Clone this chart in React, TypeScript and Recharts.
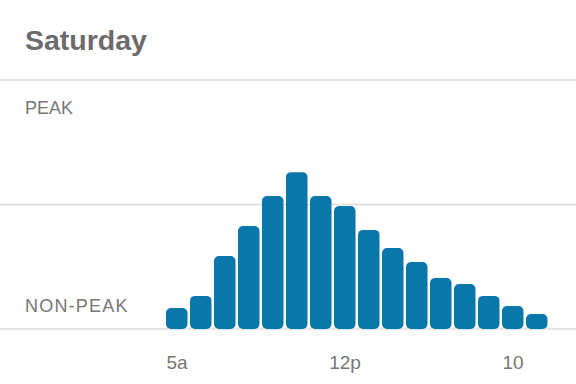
import { BarChart, Bar, XAxis, YAxis, CartesianGrid } from "recharts";

// hourly busyness, Saturday
const hours = ["5a", "6a", "7a", "8a", "9a", "10a", "11a", "12p", "1p", "2p", "3p", "4p", "5p", "6p", "7p", "8p"];
const busy = [8.4, 13.3, 29.3, 41.4, 53.4, 63, 53.4, 49.4, 39.8, 32.5, 26.9, 20.5, 18.1, 13.3, 9.2, 6];
const tickHours = ["5a", "12p", "7p"];
const tickTexts = ["5a", "12p", "10"];

const data = hours.map((h, i) => ({ hour: h, value: busy[i] }));

const FONT = "'Liberation Sans', Arial, Helvetica, sans-serif";

export default function App() {
  return (
    <div style={{ position: "absolute", left: 0, top: 0, width: 576, height: 384, background: "#fff" }}>
      <BarChart
        width={576}
        height={384}
        data={data}
        margin={{ top: 80, right: 0, left: 0, bottom: 0 }}
        barSize={21.5}
      >
        <CartesianGrid horizontal={true} vertical={false} stroke="#dcdcdc" strokeWidth={1.5} />
        <XAxis
          dataKey="hour"
          ticks={tickHours}
          interval={0}
          tickFormatter={(h) => tickTexts[tickHours.indexOf(h)] ?? ""}
          axisLine={false}
          tickLine={false}
          tickSize={0}
          tickMargin={27}
          height={55}
          padding={{ left: 165, right: 27 }}
          tick={{ fontSize: 19, fill: "#777", fontFamily: FONT }}
        />
        <YAxis hide domain={[0, 100]} ticks={[0, 50, 100]} width={0} />
        <Bar dataKey="value" fill="#0a77aa" radius={[5, 5, 5, 5]} isAnimationActive={false} />
      </BarChart>
      <svg
        width={576}
        height={384}
        style={{ position: "absolute", left: 0, top: 0, pointerEvents: "none" }}
      >
        <text x={25} y={50} fontSize={28.5} fontWeight="bold" fill="#6b6b6b" fontFamily={FONT}>
          Saturday
        </text>
        <text x={25} y={114} fontSize={18} fill="#777" fontFamily={FONT}>
          PEAK
        </text>
        <text x={25} y={312} fontSize={18} letterSpacing={1.2} fill="#777" fontFamily={FONT}>
          NON-PEAK
        </text>
      </svg>
    </div>
  );
}
